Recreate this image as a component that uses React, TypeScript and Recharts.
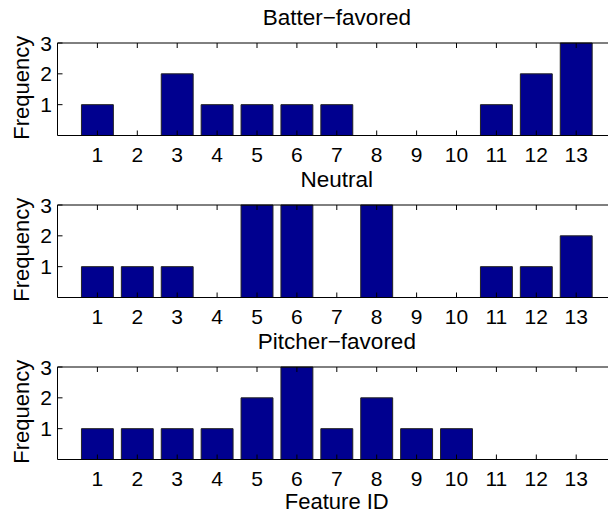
import React from 'react';
import { BarChart, Bar, XAxis, YAxis, Label } from 'recharts';

const featureIds = [1, 2, 3, 4, 5, 6, 7, 8, 9, 10, 11, 12, 13];
const batterFavored = [1, 0, 2, 1, 1, 1, 1, 0, 0, 0, 1, 2, 3];
const neutral = [1, 1, 1, 0, 3, 3, 0, 3, 0, 0, 1, 1, 2];
const pitcherFavored = [1, 1, 1, 1, 2, 3, 1, 2, 1, 1, 0, 0, 0];
const yTicks = [1, 2, 3];
const titles = ['Batter\u2212favored', 'Neutral', 'Pitcher\u2212favored'];
const yLabel = 'Frequency';
const xLabel = 'Feature ID';

const FONT = "'Liberation Sans', Arial, Helvetica, sans-serif";
const CHART_W = 660;
const YAXIS_W = 57.5;
const UNIT = 39.9;
const PLOT_W = UNIT * 14;
const PLOT_H = 92.5;
const MARGIN_TOP = 25;
const TOP_AXIS_H = 18;
const BOTTOM_AXIS_H = 60;
const CHART_H = MARGIN_TOP + TOP_AXIS_H + PLOT_H + BOTTOM_AXIS_H;
const RIGHT_MARGIN = CHART_W - YAXIS_W - PLOT_W;
const TICK_LEN = 5;
const BAR_COLOR = '#00008F';

const BottomTick = (props: any) => {
  const { x, y, payload } = props;
  return (
    <g>
      <line x1={x} x2={x} y1={y} y2={y - TICK_LEN} stroke="#000" strokeWidth={1} />
      <text x={x} y={y + 26} textAnchor="middle" fontSize={21} fontFamily={FONT} fill="#000">
        {payload.value}
      </text>
    </g>
  );
};

const TopTick = (props: any) => {
  const { x, y } = props;
  return <line x1={x} x2={x} y1={y} y2={y + TICK_LEN} stroke="#000" strokeWidth={1} />;
};

const LeftTick = (props: any) => {
  const { x, y, payload } = props;
  return (
    <g>
      <line x1={x} x2={x + TICK_LEN} y1={y} y2={y} stroke="#000" strokeWidth={1} />
      <text x={x - 5.5} y={y + 7.5} textAnchor="end" fontSize={21} fontFamily={FONT} fill="#000">
        {payload.value}
      </text>
    </g>
  );
};

const Panel = ({ values, title, top, showXLabel }: { values: number[]; title: string; top: number; showXLabel: boolean }) => {
  const data = featureIds.map((id, i) => ({ id, value: values[i] }));
  return (
    <div style={{ position: 'absolute', left: 0, top }}>
      <BarChart
        width={CHART_W}
        height={CHART_H}
        data={data}
        margin={{ top: MARGIN_TOP, right: RIGHT_MARGIN, bottom: 0, left: 0 }}
      >
        <XAxis
          xAxisId="top"
          orientation="top"
          dataKey="id"
          type="number"
          domain={[0, 14]}
          ticks={featureIds}
          interval={0}
          height={TOP_AXIS_H}
          tickSize={0}
          tickMargin={0}
          tickLine={false}
          axisLine={{ stroke: '#000', strokeWidth: 1 }}
          tick={(p: any) => <TopTick {...p} />}
        >
          <Label
            content={(p: any) => {
              const vb = p.viewBox || {};
              return (
                <text
                  x={vb.x + vb.width / 2}
                  y={vb.y + vb.height - 18}
                  textAnchor="middle"
                  fontSize={22.5}
                  fontFamily={FONT}
                  fill="#000"
                >
                  {title}
                </text>
              );
            }}
          />
        </XAxis>
        <XAxis
          dataKey="id"
          type="number"
          domain={[0, 14]}
          ticks={featureIds}
          interval={0}
          height={BOTTOM_AXIS_H}
          tickSize={0}
          tickMargin={0}
          tickLine={false}
          axisLine={{ stroke: '#000', strokeWidth: 1 }}
          tick={(p: any) => <BottomTick {...p} />}
        >
          {showXLabel && (
            <Label
              content={(p: any) => {
                const vb = p.viewBox || {};
                return (
                  <text
                    x={vb.x + vb.width / 2}
                    y={vb.y + 49}
                    textAnchor="middle"
                    fontSize={22}
                    fontFamily={FONT}
                    fill="#000"
                  >
                    {xLabel}
                  </text>
                );
              }}
            />
          )}
        </XAxis>
        <YAxis
          type="number"
          domain={[0, 3]}
          ticks={yTicks}
          interval={0}
          width={YAXIS_W}
          tickSize={0}
          tickMargin={0}
          tickLine={false}
          axisLine={{ stroke: '#000', strokeWidth: 1 }}
          tick={(p: any) => <LeftTick {...p} />}
        >
          <Label
            content={(p: any) => {
              const vb = p.viewBox || {};
              const cx = 29;
              const cy = vb.y + vb.height / 2 - 1.5;
              return (
                <text
                  x={cx}
                  y={cy}
                  transform={`rotate(-90 ${cx} ${cy})`}
                  textAnchor="middle"
                  fontSize={22}
                  fontFamily={FONT}
                  fill="#000"
                >
                  {yLabel}
                </text>
              );
            }}
          />
        </YAxis>
        <Bar
          dataKey="value"
          barSize={UNIT * 0.8}
          fill={BAR_COLOR}
          stroke="#222"
          strokeWidth={1}
          isAnimationActive={false}
        />
      </BarChart>
    </div>
  );
};

export default function App() {
  return (
    <div
      style={{
        position: 'absolute',
        left: 0,
        top: 0,
        width: 608,
        height: 512,
        overflow: 'hidden',
        background: '#fff',
      }}
    >
      <Panel values={batterFavored} title={titles[0]} top={0} showXLabel={false} />
      <Panel values={neutral} title={titles[1]} top={162} showXLabel={false} />
      <Panel values={pitcherFavored} title={titles[2]} top={324} showXLabel={true} />
    </div>
  );
}
